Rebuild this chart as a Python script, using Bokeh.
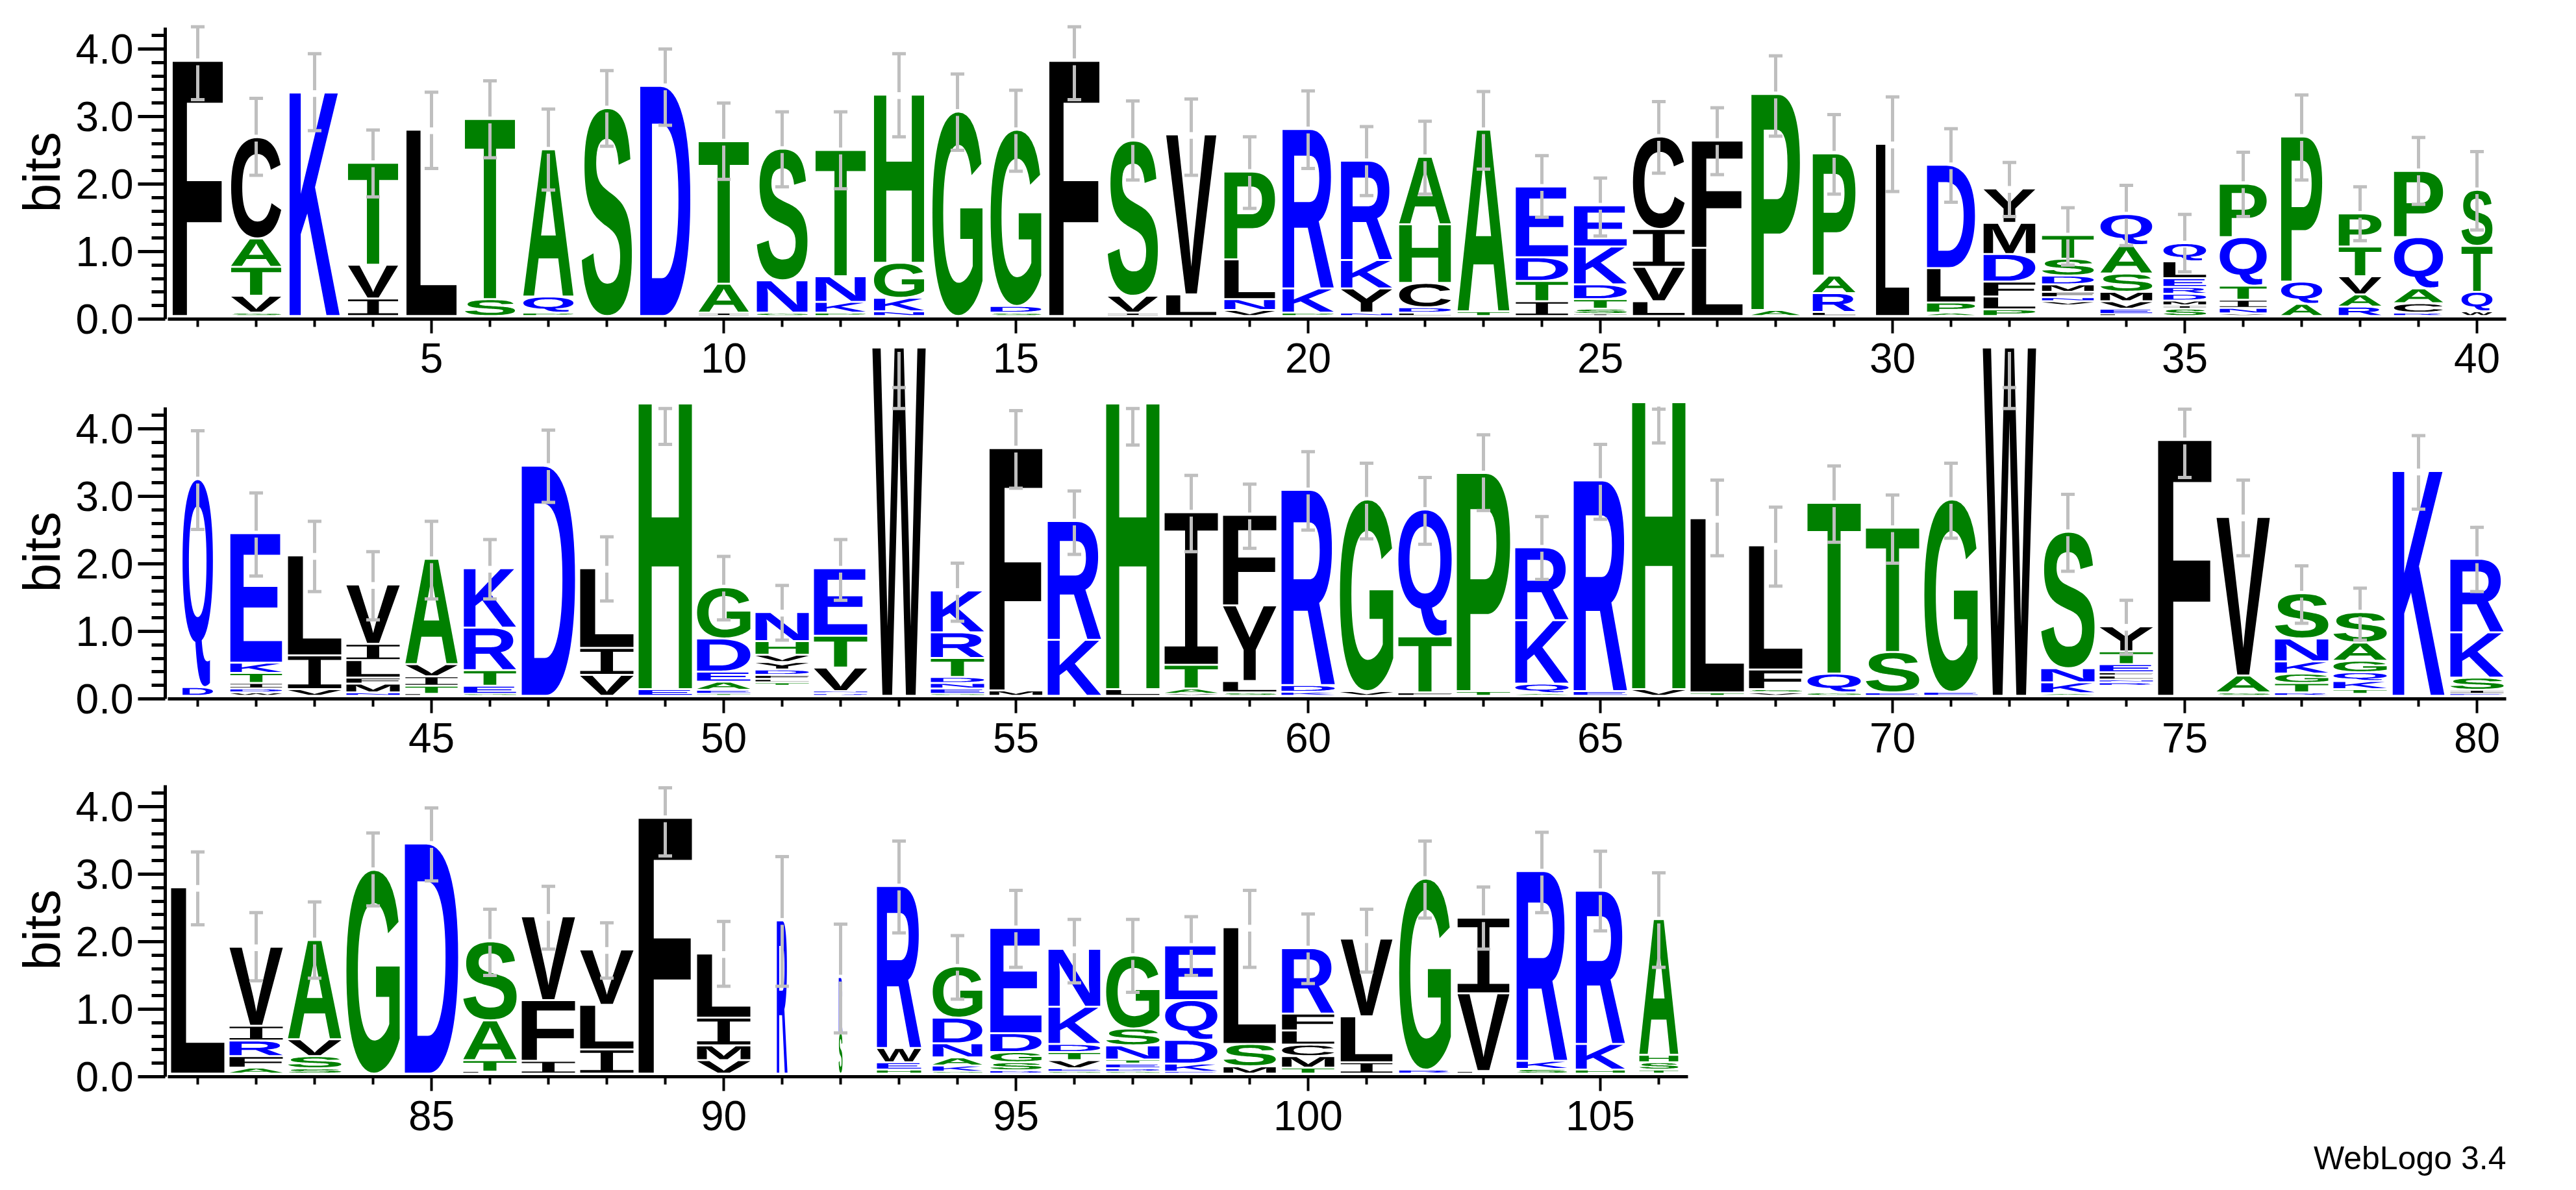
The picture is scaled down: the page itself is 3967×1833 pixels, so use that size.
import glob
import os
import struct

from bokeh.embed import file_html
from bokeh.layouts import column
from bokeh.models import ColumnDataSource, FixedTicker, LinearAxis, NumeralTickFormatter, Range1d, Title
from bokeh.plotting import figure
from bokeh.resources import INLINE

# one entry per position, letters bottom to top, "-" is an empty slot in the stack
letters_1 = ["F", "SVTAC", "K", "IVT", "L", "ST", "PQA", "S", "D", "IAT", "GNS", "PKNT", "NKGH", "G", "SDG", "F",
             "IVS", "LV", "VNLP", "PKR", "NYKR", "LDCHA", "TA", "ITDE", "ISTDKE", "LVIC", "LF", "AP", "LRAP", "L",
             "APLD", "PLFDMY", "-VNFMDST", "LEVMSAQ", "SIMDRELQ", "VNITQP", "AQP", "RAVTP", "RCAQP", "WQTS"]
heights_1 = [[3.78], [.05, .25, .43, .42, 1.50], [3.31], [.26, .50, 1.51], [2.76], [.25, 2.67], [.05, .24, 2.18],
             [3.08], [3.41], [.05, .43, 2.11], [.05, .48, 1.95], [.05, .16, .38, 1.87], [.07, .20, .52, 2.49], [3.03],
             [.05, .10, 2.61], [3.78], [.05, .25, 2.30], [.32, 2.37], [.09, .16, .59, 1.30], [.05, .36, 2.36],
             [.05, .36, .42, 1.47], [.05, .08, .36, .87, 1.00], [.07, 2.69], [.22, .30, .35, 1.05],
             [.03, .08, .14, .22, .56, .61], [.22, .51, .56, 1.37], [1.01, 1.59], [.09, 3.20], [.06, .28, .26, 1.81],
             [2.55], [.05, .15, .51, 1.53], [.10, .19, .22, .41, .46, .51], [.16, .06, .06, .08, .11, .13, .25, .35],
             [.03, .08, .11, .14, .27, .42, .46], [.11, .05, .07, .10, .10, .13, .25, .27],
             [.04, .08, .12, .21, .72, .79], [.18, .33, 2.15], [.14, .18, .27, .44, .49], [.05, .14, .22, .76, .98],
             [.07, .29, .68, .83]]
err_hi_1 = [4.30, 3.24, 3.90, 2.77, 3.33, 3.50, 3.08, 3.65, 3.97, 3.17, 3.04, 3.04, 3.90, 3.60, 3.36, 4.30, 3.20, 3.23,
            2.67, 3.35, 2.82, 2.90, 3.34, 2.39, 2.06, 3.19, 3.10, 3.87, 3.00, 3.26, 2.79, 2.29, 1.62, 1.95, 1.52, 2.44,
            3.29, 1.93, 2.66, 2.45]
err_lo_1 = [3.22, 2.10, 2.76, 1.78, 2.20, 2.36, 1.88, 2.53, 2.84, 2.04, 1.93, 1.90, 2.67, 2.47, 2.16, 3.22, 2.03, 2.10,
            1.61, 2.20, 1.80, 1.82, 2.19, 1.48, 1.20, 2.13, 2.11, 2.68, 1.82, 1.86, 1.70, 1.49, .77, 1.06, .67, 1.49,
            2.03, 1.13, 1.67, 1.29]
occupancy_1 = [.94, .94, .94, .94, .94, .94, .94, .94, .94, .94, .95, .94, .94, .94, .95, .94, .94, .94, .95, .96,
               .96, .97, .97, .98, .99, .97, .95, .91, .80, .62, .90, .97, .97, .97, .80, .88, .77, .80, .92, .58]

letters_2 = ["DQ", "WDITKE", "VIL", "NMFLIV", "LTIVA", "GETRK", "D", "VIL", "EH", "TEAEDG", "-TLFDYVHN", "DNVTE",
             "W", "GENDTRK", "MF", "KR", "LH", "VATI", "SLYF", "KDR", "VG", "FTQ", "TP", "AQKR", "ER", "VH", "TL",
             "VSFL", "GQT", "EST", "EG", "W", "AKNS", "-RNLFETY", "F", "SAV", "RTGKNS", "-TKQGAS", "K", "EISKR"]
heights_2 = [[.13, 3.08], [.05, .06, .08, .15, .15, 1.92], [.10, .50, 1.48], [.05, .13, .09, .26, .24, .88],
             [.03, .12, .14, .18, 1.56], [.03, .12, .23, .63, .88], [3.41], [.31, .40, 1.18], [.10, 4.23],
             [.03, .06, .12, .15, .49, .76], [.15, .05, .05, .06, .08, .11, .11, .20, .43],
             [.04, .03, .35, .47, 1.00], [5.16], [.03, .08, .08, .09, .28, .38, .62], [.08, 3.59], [.83, 1.76],
             [.10, 4.23], [.03, .08, .35, 2.26], [.05, .17, 1.12, 1.34], [.06, .10, 2.89], [.07, 2.84], [.05, .83, 1.88],
             [.07, 3.23], [.04, .14, .94, 1.08], [.07, 3.12], [.10, 4.25], [.05, 2.58], [.05, .05, .29, 1.84],
             [.05, .28, 2.53], [.05, .60, 1.84], [.06, 2.85], [5.16], [.04, .16, .21, 2.02],
             [.15, .05, .04, .06, .05, .12, .19, .37], [3.79], [.05, .25, 2.35], [.05, .14, .14, .18, .34, .67],
             [.03, .07, .12, .13, .17, .27, .45], [3.33], [.03, .06, .18, .67, 1.09]]
err_hi_2 = [3.94, 3.02, 2.60, 2.15, 2.60, 2.33, 3.95, 2.37, 4.27, 2.08, 1.65, 2.33, 4.27, 1.98, 4.24, 3.05, 4.27, 3.28,
            3.15, 3.63, 3.46, 3.25, 3.88, 2.67, 3.74, 4.26, 3.21, 2.81, 3.42, 2.99, 3.46, 4.27, 3.00, 1.43, 4.26, 3.21,
            1.94, 1.61, 3.87, 2.51]
err_lo_2 = [2.48, 1.79, 1.56, 1.14, 1.45, 1.45, 2.88, 1.42, 3.74, 1.14, .84, 1.43, 4.58, 1.12, 3.09, 2.11, 3.73, 2.15,
            2.20, 2.47, 2.34, 2.26, 2.76, 1.74, 2.63, 3.76, 2.09, 1.64, 2.29, 1.98, 2.35, 4.58, 1.86, .63, 3.25, 2.09,
            1.09, .84, 2.78, 1.56]
occupancy_2 = [.57, .97, 1, 1, .98, .98, 1, 1, 1, 1, 1, 1, 1, 1, .99, 1, 1, 1, 1, 1, 1, 1, 1, 1, 1, 1, 1, 1, 1, 1, 1, 1,
               1, 1, 1, 1, 1, 1, .97, 1]

letters_3 = ["L", "AFRIV", "SSVA", "G", "D", "LTAS", "IFV", "ILV", "F", "VMIL", "R", "SR", "HEWR", "GKANDG", "DSGDE",
             "GEVTDKN", "GDETNSG", "EKDQE", "MSL", "TMCLFR", "ILV", "RG", "LVI", "SKR", "HKR", "TSHA"]
heights_3 = [[2.76], [.09, .17, .23, .22, 1.17], [.08, .18, .25, 1.47], [3.02], [3.41], [.03, .17, .59, 1.17],
             [.19, .90, 1.24], [.36, .66, .82], [3.79], [.20, .22, .41, .95], [2.27], [.61, .82], [.06, .11, .21, 2.40],
             [.03, .09, .12, .21, .38, .76], [.05, .12, .15, .28, 1.56], [.03, .05, .12, .12, .12, .55, .86],
             [.03, .05, .07, .06, .21, .25, 1.08], [.03, .12, .35, .59, .81], [.11, .33, 1.73],
             [.09, .17, .17, .21, .25, .97], [.17, .68, 1.15], [.06, 2.83], [.04, 1.15, 1.12], [.07, .12, 2.81],
             [.06, .38, 2.27], [.06, .11, .11, 2.01]]
err_hi_3 = [3.30, 2.40, 2.56, 3.58, 3.95, 2.45, 2.79, 2.25, 4.25, 2.27, 3.23, 2.23, 3.46, 2.06, 2.73, 2.30, 2.30, 2.34,
            2.73, 2.38, 2.45, 3.46, 2.78, 3.59, 3.31, 2.99]
err_lo_3 = [2.22, 1.39, 1.43, 2.50, 2.87, 1.47, 1.86, 1.43, 3.24, 1.31, 1.31, .62, 2.10, 1.12, 1.59, 1.36, 1.22, 1.47,
            1.59, 1.35, 1.52, 2.32, 1.86, 2.40, 2.13, 1.59]
occupancy_3 = [1, 1, 1, 1, 1, 1, 1, 1, 1, 1, .20, .07, .83, .93, .96, .97, 1, .98, .98, .98, .97, .97, .97, .95, .92,
               .73]

GREEN_LETTERS = "AGHPST"
BLUE_LETTERS = "DEKNQR"
PX_PER_POS = 90
PX_PER_BIT = 104
FRAME_LEFT = 254
FRAME_WIDTH = 3605
FULL_WIDTH_PX = 82
BASELINE = 0.03
LETTER_GAP_PX = 1.5
FONT = "Liberation Sans"


def find_font(filename):
    for root in ("/usr/share/fonts", "/usr/local/share/fonts", os.path.expanduser("~/.fonts"), "/usr", "/opt"):
        hits = glob.glob(os.path.join(root, "**", filename), recursive=True)
        if hits:
            return hits[0]
    raise FileNotFoundError(filename)


def read_outline(font_data, tables, gid, long_loca):
    # simple truetype glyph: returns the rings, quadratic curves flattened, in font units
    loca = tables["loca"]
    if long_loca:
        start = struct.unpack(">I", font_data[loca + 4 * gid:loca + 4 * gid + 4])[0]
    else:
        start = struct.unpack(">H", font_data[loca + 2 * gid:loca + 2 * gid + 2])[0] * 2
    pos = tables["glyf"] + start
    n_contours = struct.unpack(">h", font_data[pos:pos + 2])[0]
    pos += 10
    ends = struct.unpack(">%dH" % n_contours, font_data[pos:pos + 2 * n_contours])
    pos += 2 * n_contours
    pos += 2 + struct.unpack(">H", font_data[pos:pos + 2])[0]

    n_points = ends[-1] + 1
    flags = []
    while len(flags) < n_points:
        flag = font_data[pos]
        pos += 1
        flags.append(flag)
        if flag & 8:
            flags += [flag] * font_data[pos]
            pos += 1

    coords = []
    for short_bit, same_bit in ((2, 16), (4, 32)):
        values, current = [], 0
        for flag in flags:
            if flag & short_bit:
                current += font_data[pos] if flag & same_bit else -font_data[pos]
                pos += 1
            elif not flag & same_bit:
                current += struct.unpack(">h", font_data[pos:pos + 2])[0]
                pos += 2
            values.append(current)
        coords.append(values)

    rings, first = [], 0
    for end in ends:
        pts = [(coords[0][i], coords[1][i], flags[i] & 1) for i in range(first, end + 1)]
        first = end + 1
        ring = []
        count = len(pts)
        for i in range(count):
            x, y, on = pts[i]
            px, py, pon = pts[i - 1]
            nx, ny, non = pts[(i + 1) % count]
            if on:
                ring.append((x, y))
                continue
            ax, ay = (px, py) if pon else ((px + x) / 2, (py + y) / 2)
            bx, by = (nx, ny) if non else ((nx + x) / 2, (ny + y) / 2)
            for step in range(1, 9):
                t = step / 8
                ring.append(((1 - t) ** 2 * ax + 2 * t * (1 - t) * x + t ** 2 * bx,
                             (1 - t) ** 2 * ay + 2 * t * (1 - t) * y + t ** 2 * by))
        rings.append(ring)
    return rings


def load_letters(filename, letters):
    # a text glyph cannot be stretched to a box in x and y separately, so the logo letters
    # are drawn from the font's own outlines, normalised to a unit square
    font_data = open(find_font(filename), "rb").read()
    n_tables = struct.unpack(">H", font_data[4:6])[0]
    tables = {}
    for i in range(n_tables):
        tag, _, offset, _ = struct.unpack(">4sIII", font_data[12 + 16 * i:28 + 16 * i])
        tables[tag.decode()] = offset
    long_loca = struct.unpack(">h", font_data[tables["head"] + 50:tables["head"] + 52])[0] == 1

    cmap = tables["cmap"]
    n_sub = struct.unpack(">H", font_data[cmap + 2:cmap + 4])[0]
    sub = None
    for i in range(n_sub):
        platform, encoding, offset = struct.unpack(">HHI", font_data[cmap + 4 + 8 * i:cmap + 12 + 8 * i])
        if struct.unpack(">H", font_data[cmap + offset:cmap + offset + 2])[0] == 4 and (platform, encoding) in ((3, 1), (0, 3)):
            sub = cmap + offset
    seg_x2 = struct.unpack(">H", font_data[sub + 6:sub + 8])[0]
    n_seg = seg_x2 // 2
    end_codes = struct.unpack(">%dH" % n_seg, font_data[sub + 14:sub + 14 + seg_x2])
    start_codes = struct.unpack(">%dH" % n_seg, font_data[sub + 16 + seg_x2:sub + 16 + 2 * seg_x2])
    deltas = struct.unpack(">%dh" % n_seg, font_data[sub + 16 + 2 * seg_x2:sub + 16 + 3 * seg_x2])
    range_base = sub + 16 + 3 * seg_x2
    range_offsets = struct.unpack(">%dH" % n_seg, font_data[range_base:range_base + seg_x2])

    shapes = {}
    for letter in letters:
        code = ord(letter)
        for s in range(n_seg):
            if start_codes[s] <= code <= end_codes[s]:
                if range_offsets[s] == 0:
                    gid = (code + deltas[s]) & 0xFFFF
                else:
                    at = range_base + 2 * s + range_offsets[s] + 2 * (code - start_codes[s])
                    gid = (struct.unpack(">H", font_data[at:at + 2])[0] + deltas[s]) & 0xFFFF
                break
        rings = read_outline(font_data, tables, gid, long_loca)
        xs = [pt[0] for ring in rings for pt in ring]
        ys = [pt[1] for ring in rings for pt in ring]
        x0, x1, y0, y1 = min(xs), max(xs), min(ys), max(ys)
        rings = [[((x - x0) / (x1 - x0), (y - y0) / (y1 - y0)) for x, y in ring] for ring in rings]

        def area(ring):
            return abs(sum(a[0] * b[1] - b[0] * a[1] for a, b in zip(ring, ring[1:] + ring[:1])))

        # largest ring is the outside of the letter, the rest are its holes
        shapes[letter] = sorted(rings, key=area, reverse=True)
    return shapes


LETTER_SHAPES = load_letters("LiberationSans-Bold.ttf", "ACDEFGHKLMNPQRSTVWY")
LETTER_SHAPES.update(load_letters("LiberationMono-Regular.ttf", "I"))  # the logo's I has serifs


def letter_color(letter):
    if letter in GREEN_LETTERS:
        return "#008000"
    if letter in BLUE_LETTERS:
        return "#0000FF"
    return "#000000"


def make_panel(first_pos, letters, heights, err_hi, err_lo, occupancy, frame_top, frame_height, bottom_border):
    rows = dict(xs=[], ys=[], letter=[], color=[])
    bar_x, bar_top, bar_bottom, cap_x, cap_y = [], [], [], [], []
    positions = list(range(first_pos, first_pos + len(letters)))
    gap = LETTER_GAP_PX / PX_PER_BIT

    for pos, stack, sizes, hi, lo, occ in zip(positions, letters, heights, err_hi, err_lo, occupancy):
        y = BASELINE + 0.015
        box_w = occ * FULL_WIDTH_PX / PX_PER_POS
        for letter, size in zip(stack, sizes):
            if letter != "-":
                box_h = max(size - 2 * gap, 1 / PX_PER_BIT)
                rings = LETTER_SHAPES[letter]
                rows["xs"].append([[[pos - box_w / 2 + pt[0] * box_w for pt in ring] for ring in rings]])
                rows["ys"].append([[[y + gap + pt[1] * box_h for pt in ring] for ring in rings]])
                rows["letter"].append(letter)
                rows["color"].append(letter_color(letter))
            y += size

        total = sum(sizes)
        # the bar is broken where it crosses the top of the stack
        bar_x.append(pos)
        bar_top.append(BASELINE + total - 0.05)
        bar_bottom.append(BASELINE + min(hi, lo))
        if hi > total + 0.05:
            bar_x.append(pos)
            bar_top.append(BASELINE + hi)
            bar_bottom.append(BASELINE + total + 0.05)
        cap_x += [pos, pos]
        cap_y += [BASELINE + hi, BASELINE + lo]

    x_start = first_pos - 50 / PX_PER_POS
    x_end = x_start + FRAME_WIDTH / PX_PER_POS
    y_top = frame_height / PX_PER_BIT

    p = figure(
        output_backend="svg", toolbar_location=None,
        frame_width=FRAME_WIDTH, frame_height=frame_height,
        min_border_left=FRAME_LEFT, min_border_top=frame_top, min_border_bottom=bottom_border, min_border_right=10,
        x_range=Range1d(x_start, x_end), y_range=Range1d(0, y_top),
        x_axis_type=None, y_axis_type=None,
        background_fill_color=None, border_fill_color=None, outline_line_color=None,
    )
    p.grid.visible = False

    x_axis = LinearAxis(
        ticker=FixedTicker(ticks=[t for t in positions if t % 5 == 0], minor_ticks=[t for t in positions if t % 5]),
        bounds=(x_start + 4 / PX_PER_POS, positions[-1] + 0.5),
        major_tick_in=0, major_tick_out=22, minor_tick_in=0, minor_tick_out=12,
        major_tick_line_width=4, minor_tick_line_width=4, axis_line_width=5,
        major_label_text_font=FONT, major_label_text_font_size="64px", major_label_text_color="black",
        major_label_standoff=15,
    )
    y_axis = LinearAxis(
        ticker=FixedTicker(ticks=[0, 1, 2, 3, 4], minor_ticks=[.2, .4, .6, .8, 1.2, 1.4, 1.6, 1.8, 2.2, 2.4, 2.6, 2.8,
                                                               3.2, 3.4, 3.6, 3.8, 4.2]),
        bounds=(0, 4.32),
        formatter=NumeralTickFormatter(format="0.0"),
        major_tick_in=0, major_tick_out=42, minor_tick_in=0, minor_tick_out=21,
        major_tick_line_width=5, minor_tick_line_width=5, axis_line_width=5,
        major_label_text_font=FONT, major_label_text_font_size="64px", major_label_text_color="black",
        major_label_standoff=7,
    )
    p.add_layout(x_axis, "below")
    p.add_layout(y_axis, "left")
    # the frame is taller than the axis, so an axis label would not sit at the axis centre
    p.add_layout(Title(text="bits", align="left", offset=164, text_font=FONT, text_font_size="80px",
                       text_font_style="normal", text_color="black", standoff=10), "left")

    p.multi_polygons(xs="xs", ys="ys", source=ColumnDataSource(rows), fill_color="color", line_color=None)

    p.segment(x0=bar_x, y0=bar_bottom, x1=bar_x, y1=bar_top, line_color="#BFBFBF", line_width=5)
    p.segment(x0=[x - 0.117 for x in cap_x], y0=cap_y, x1=[x + 0.117 for x in cap_x], y1=cap_y,
              line_color="#BFBFBF", line_width=5)
    return p


p1 = make_panel(1, letters_1, heights_1, err_hi_1, err_lo_1, occupancy_1, 2, 489, 101)
p2 = make_panel(41, letters_2, heights_2, err_hi_2, err_lo_2, occupancy_2, 0, 551, 101)
p3 = make_panel(81, letters_3, heights_3, err_hi_3, err_lo_3, occupancy_3, 3, 478, 159)
p2.margin = (-67, 0, 0, 0)

p3.add_layout(Title(text="WebLogo 3.4", align="right", text_font=FONT, text_font_size="50px",
                    text_font_style="normal", text_color="black", standoff=20), "below")

layout = column(p1, p2, p3, spacing=0)
open("out.html", "w").write(file_html(layout, INLINE))
